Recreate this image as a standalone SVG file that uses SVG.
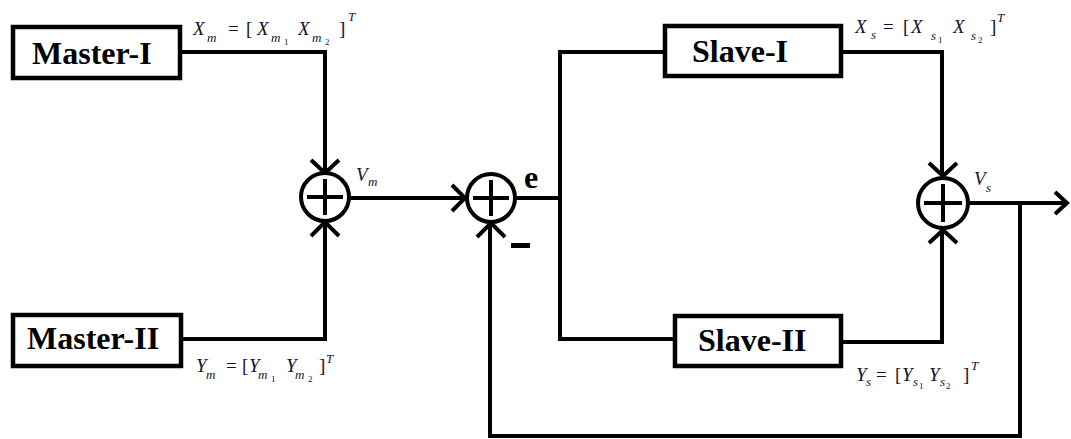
<svg xmlns="http://www.w3.org/2000/svg" width="1071" height="439" viewBox="0 0 1071 439">
<style>
.box{fill:#fff;stroke:#000;stroke-width:4.5}
.lbl{font-family:"Liberation Serif",serif;font-weight:bold;font-size:32px;fill:#000}
.ln{fill:none;stroke:#000;stroke-width:4;stroke-linejoin:miter;stroke-linecap:square}
.ah{fill:none;stroke:#000;stroke-width:4;stroke-linejoin:miter}
.sum{fill:#fff;stroke:#000;stroke-width:4}
.m{font-family:"Liberation Serif",serif;font-style:italic;font-size:19px;fill:#141428}
.s{font-family:"Liberation Serif",serif;font-style:italic;font-size:13px;fill:#141428}
.d{font-family:"Liberation Serif",serif;font-size:9px;fill:#141428}
.u{font-family:"Liberation Serif",serif;font-size:19px;fill:#141428}
</style>
<rect width="1071" height="439" fill="#fff"/>
<g id="connectors">
<path class="ln" d="M180,52 H325 V170"/>
<path class="ln" d="M181,339 H325 V225"/>
<path class="ln" d="M350,198 H462"/>
<path class="ln" d="M516,198 H560"/>
<path class="ln" d="M560,52 V339"/>
<path class="ln" d="M560,52 H665"/>
<path class="ln" d="M560,339 H675"/>
<path class="ln" d="M841,52 H942 V174"/>
<path class="ln" d="M841,342 H942 V231"/>
<path class="ln" d="M968,203 H1066"/>
<path class="ln" d="M1020,203 V436 H490 V226"/>
<polyline class="ah" points="311,160 325,173 339,160"/>
<polyline class="ah" points="311,236 325,222 339,236"/>
<polyline class="ah" points="452,185 465,198 452,211"/>
<polyline class="ah" points="477,237 491,223 505,237"/>
<polyline class="ah" points="929,163 943,176 957,163"/>
<polyline class="ah" points="929,243 943,230 957,243"/>
<polyline class="ah" points="1055,192 1067,203 1055,214"/>
</g>
<g id="master1"><rect class="box" x="13" y="27" width="167" height="51"/><text class="lbl" x="32" y="64">Master-I</text></g>
<g id="master2"><rect class="box" x="13" y="315" width="168" height="51"/><text class="lbl" x="27" y="349">Master-II</text></g>
<g id="slave1"><rect class="box" x="665" y="26" width="176" height="50"/><text class="lbl" x="692" y="62">Slave-I</text></g>
<g id="slave2"><rect class="box" x="675" y="316" width="166" height="50"/><text class="lbl" x="698" y="351">Slave-II</text></g>
<g id="sum1"><circle class="sum" cx="325" cy="197" r="24"/><path class="ln" d="M309,197 H341 M325,181 V213"/></g>
<g id="sum2"><circle class="sum" cx="491" cy="198" r="24"/><path class="ln" d="M475,198 H507 M491,182 V214"/></g>
<g id="sum3"><circle class="sum" cx="943" cy="203" r="25"/><path class="ln" d="M926,203 H960 M943,186 V220"/></g>
<g id="labels">
<text class="lbl" x="524" y="188" font-size="27">e</text>
<rect x="511" y="243" width="19" height="5" fill="#000"/>
<text class="m" x="356" y="181">V</text><text class="s" x="368" y="186">m</text>
<text class="m" x="974" y="185">V</text><text class="s" x="986" y="192">s</text>
<text class="m" x="193" y="35">X</text><text class="s" x="207" y="42">m</text>
<text class="u" x="228" y="35">=</text><text class="u" x="246" y="35">[</text>
<text class="m" x="257" y="35">X</text><text class="s" x="271" y="42">m</text><text class="d" x="284" y="45">1</text>
<text class="m" x="298" y="35">X</text><text class="s" x="312" y="42">m</text><text class="d" x="325" y="45">2</text>
<text class="u" x="339" y="35">]</text><text class="s" x="348" y="21">T</text>
<text class="m" x="196" y="372">Y</text><text class="s" x="206" y="379">m</text>
<text class="u" x="226" y="372">=</text><text class="u" x="242" y="372">[</text>
<text class="m" x="249" y="372">Y</text><text class="s" x="258" y="379">m</text><text class="d" x="271" y="382">1</text>
<text class="m" x="286" y="372">Y</text><text class="s" x="295" y="379">m</text><text class="d" x="308" y="382">2</text>
<text class="u" x="319" y="372">]</text><text class="s" x="326" y="363">T</text>
<text class="m" x="855" y="33">X</text><text class="s" x="871" y="39">s</text>
<text class="u" x="883" y="33">=</text><text class="u" x="903" y="33">[</text>
<text class="m" x="911" y="33">X</text><text class="s" x="931" y="40">s</text><text class="d" x="938" y="43">1</text>
<text class="m" x="953" y="33">X</text><text class="s" x="971" y="40">s</text><text class="d" x="978" y="43">2</text>
<text class="u" x="990" y="33">]</text><text class="s" x="997" y="22">T</text>
<text class="m" x="856" y="381">Y</text><text class="s" x="866" y="386">s</text>
<text class="u" x="876" y="381">=</text><text class="u" x="895" y="381">[</text>
<text class="m" x="902" y="381">Y</text><text class="s" x="913" y="386">s</text><text class="d" x="919" y="389">1</text>
<text class="m" x="929" y="381">Y</text><text class="s" x="940" y="386">s</text><text class="d" x="946" y="389">2</text>
<text class="u" x="963" y="381">]</text><text class="s" x="971" y="370">T</text>
</g>
</svg>
